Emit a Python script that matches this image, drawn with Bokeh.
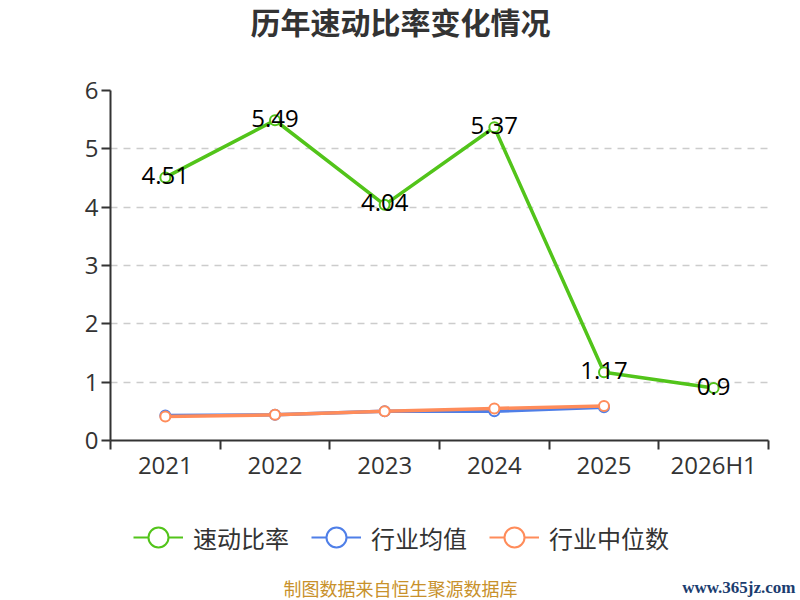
from bokeh.plotting import figure
from bokeh.models import FixedTicker, Legend, LegendItem, ColumnDataSource, Range1d
from bokeh.layouts import column, row
from bokeh.core.properties import value
from bokeh.embed import file_html
from bokeh.resources import INLINE

categories = ["2021", "2022", "2023", "2024", "2025", "2026H1"]
quick_ratio = [4.51, 5.49, 4.04, 5.37, 1.17, 0.9]
industry_avg = [0.43, 0.44, 0.50, 0.50, 0.57]
industry_median = [0.41, 0.44, 0.50, 0.55, 0.59]
y_ticks = [0, 1, 2, 3, 4, 5, 6]
series_names = ["速动比率", "行业均值", "行业中位数"]
title_text = "历年速动比率变化情况"
footer_text = "制图数据来自恒生聚源数据库"
site_text = "www.365jz.com"

GREEN = "#52c41a"
BLUE = "#4f7fe8"
ORANGE = "#ff8c5a"
CJK = "Noto Sans CJK SC"
NUM = "Open Sans"


def strip(w, h, xr, left=0, right=0):
    f = figure(width=w, height=h, output_backend="svg", toolbar_location=None,
               x_range=xr, y_range=(0, h), min_border_left=left, min_border_right=right,
               min_border_top=0, min_border_bottom=0,
               x_axis_location=None, y_axis_location=None)
    f.grid.visible = False
    f.outline_line_color = None
    return f


xs = [i + 0.5 for i in range(len(categories))]

# header with title
head = strip(800, 45, (110, 768), left=110, right=32)
head.text(x=[400], y=[25], text=[title_text], text_align="center", text_baseline="middle",
          text_font=value(CJK), text_font_size="30px", text_font_style="bold",
          text_color="#333333")

p = figure(width=800, height=455, output_backend="svg", toolbar_location=None,
           x_range=(0, len(categories)), y_range=(0, 6),
           min_border_left=110, min_border_right=32, min_border_top=45, min_border_bottom=60)
p.outline_line_color = None
p.xgrid.grid_line_color = None
p.ygrid.grid_line_color = "#cccccc"
p.ygrid.grid_line_dash = "7 6"
p.ygrid.grid_line_width = 1.5

p.yaxis.ticker = FixedTicker(ticks=y_ticks)
p.yaxis.axis_line_color = "#333333"
p.yaxis.axis_line_width = 2
p.yaxis.major_tick_line_color = "#333333"
p.yaxis.major_tick_line_width = 2
p.yaxis.major_tick_out = 9
p.yaxis.major_tick_in = 0
p.yaxis.minor_tick_line_color = None
p.yaxis.major_label_text_font = NUM
p.yaxis.major_label_text_font_size = "24px"
p.yaxis.major_label_text_color = "#333333"
p.yaxis.major_label_standoff = 3

p.xaxis.ticker = FixedTicker(ticks=xs, minor_ticks=list(range(len(categories) + 1)))
p.xaxis.major_label_overrides = {x: c for x, c in zip(xs, categories)}
p.xaxis.axis_line_color = "#333333"
p.xaxis.axis_line_width = 2
p.xaxis.major_tick_line_color = None
p.xaxis.major_tick_out = 0
p.xaxis.major_tick_in = 0
p.xaxis.minor_tick_line_color = "#333333"
p.xaxis.minor_tick_line_width = 2
p.xaxis.minor_tick_out = 9
p.xaxis.minor_tick_in = 0
p.xaxis.major_label_text_font = NUM
p.xaxis.major_label_text_font_size = "24px"
p.xaxis.major_label_text_color = "#333333"
p.xaxis.major_label_standoff = -2

src_q = ColumnDataSource(dict(x=xs, y=quick_ratio, t=[str(v) for v in quick_ratio]))
src_a = ColumnDataSource(dict(x=xs[:len(industry_avg)], y=industry_avg))
src_m = ColumnDataSource(dict(x=xs[:len(industry_median)], y=industry_median))
sources = [src_q, src_a, src_m]
colors = [GREEN, BLUE, ORANGE]

for src, color in [(src_a, BLUE), (src_m, ORANGE), (src_q, GREEN)]:
    p.line("x", "y", source=src, line_color=color, line_width=3.5)
    p.scatter("x", "y", source=src, size=10, fill_color="white", line_color=color, line_width=2)

p.text("x", "y", text="t", source=src_q, text_align="center", text_baseline="middle",
       text_font=value(NUM), text_font_size="24px", text_color="#000000", y_offset=-2)

# bottom strip: legend + source note
foot = strip(680, 100, (0, 680))
foot.extra_y_ranges = {"off": Range1d(100, 200)}
items = []
for name, src, color in zip(series_names, sources, colors):
    r1 = foot.line("x", "y", source=src, line_color=color, line_width=2, y_range_name="off")
    r2 = foot.scatter("x", "y", source=src, fill_color="white", line_color=color,
                      line_width=2, y_range_name="off")
    items.append(LegendItem(label=name, renderers=[r1, r2]))

legend = Legend(items=items, orientation="horizontal", location=(133, 38),
                glyph_width=50, glyph_height=50, label_standoff=10, spacing=22,
                padding=0, margin=0, border_line_color=None, background_fill_alpha=0,
                label_text_font=CJK, label_text_font_size="24px",
                label_text_color="#333333", label_text_baseline="middle")
foot.add_layout(legend, "center")
foot.text(x=[400], y=[13], text=[footer_text], text_align="center", text_baseline="middle",
          text_font=value(CJK), text_font_size="18px", text_color="#c8912b")

site = strip(120, 100, (680, 800))
site.text(x=[795], y=[13], text=[site_text], text_align="right", text_baseline="middle",
          text_font=value("Liberation Serif"), text_font_size="17px", text_font_style="bold",
          text_color="#1b3d6f")

layout = column(head, p, row(foot, site, spacing=0), spacing=0)
open("out.html", "w").write(file_html(layout, INLINE))
